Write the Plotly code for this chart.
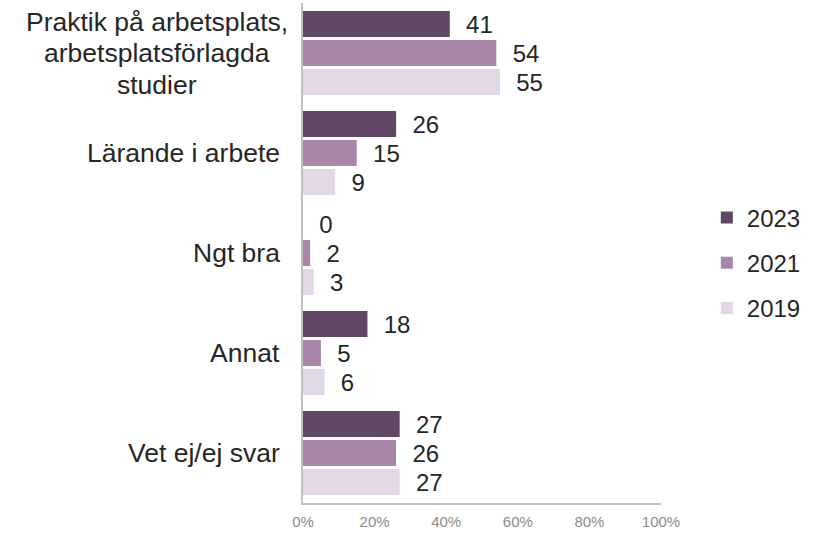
import plotly.graph_objects as go

categories = ["Praktik på arbetsplats,<br>arbetsplatsförlagda<br>studier",
              "Lärande i arbete", "Ngt bra", "Annat", "Vet ej/ej svar"]
series_names = ["2023", "2021", "2019"]
values_2023 = [41, 26, 0, 18, 27]
values_2021 = [54, 15, 2, 5, 26]
values_2019 = [55, 9, 3, 6, 27]
tick_vals = [0, 20, 40, 60, 80, 100]
tick_text = ["0%", "20%", "40%", "60%", "80%", "100%"]

colors = ["#604764", "#a886a8", "#e2d7e4"]
font_family = "Arial, Liberation Sans, sans-serif"

fig = go.Figure()
for name, vals, col in zip(series_names, [values_2023, values_2021, values_2019], colors):
    fig.add_trace(go.Bar(
        y=categories, x=vals, name=name, orientation="h",
        marker=dict(color=col, line=dict(width=0)),
        text=[str(v) for v in vals], texttemplate="\u00a0\u00a0%{text}",
        textposition="outside",
        constraintext="none", cliponaxis=False,
        textfont=dict(size=24, color="#262626", family=font_family),
        legendgroup=name,
    ))

# Category labels: single-line labels right-aligned; multi-line block centred
for cat in categories:
    lines = cat.split("<br>")
    n = len(lines)
    for i, line in enumerate(lines):
        if n == 1:
            anchor, shift = "right", -21
        else:
            anchor, shift = "center", -146
        fig.add_annotation(
            x=0, xref="paper", y=cat, yref="y", text=line, showarrow=False,
            xanchor=anchor, yanchor="middle", xshift=shift,
            yshift=((n - 1) / 2 - i) * 31.5,
            font=dict(size=26.5, color="#262626", family=font_family),
        )

fig.update_layout(
    width=821, height=534,
    margin=dict(l=303, r=160, t=3, b=31),
    paper_bgcolor="white", plot_bgcolor="white",
    barmode="group", bargap=0.13, bargroupgap=0.1,
    font=dict(family=font_family),
    showlegend=True,
    legend=dict(x=1.128, xanchor="left", y=0.48, yanchor="middle",
                font=dict(size=24, color="#262626", family=font_family),
                traceorder="grouped", tracegroupgap=11, itemwidth=30,
                bgcolor="rgba(0,0,0,0)"),
)
fig.update_xaxes(range=[0, 100], tickvals=tick_vals, ticktext=tick_text,
                 showgrid=False, zeroline=False, showline=True,
                 linecolor="#c0c0c0", linewidth=2,
                 ticks="outside", ticklen=4, tickcolor="rgba(0,0,0,0)",
                 tickfont=dict(size=15, color="#8c8c8c", family=font_family))
fig.update_yaxes(autorange="reversed", showticklabels=False, showgrid=False,
                 zeroline=False, showline=True, linecolor="#c0c0c0", linewidth=2,
                 ticks="")

fig.write_html("out.html", config={"displayModeBar": False},
               post_script="document.body.style.margin='0';document.body.style.padding='0';")
